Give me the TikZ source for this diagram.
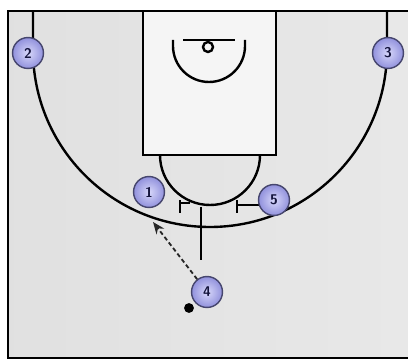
\documentclass[tikz,border=0pt]{standalone}
\usetikzlibrary{arrows.meta}
\definecolor{playerblue}{RGB}{145,145,220}
\definecolor{playerlight}{RGB}{215,215,250}
\definecolor{playerrim}{RGB}{70,70,110}
\definecolor{numberink}{RGB}{20,20,60}
\begin{document}
\begin{tikzpicture}[x=0.025cm, y=0.025cm,
  court/.style={line width=1.7pt, black},
  player/.style={circle, draw=playerrim, line width=1pt, shading=radial,
    inner color=playerlight, outer color=playerblue,
    minimum size=22pt, inner sep=0pt, font=\sffamily\bfseries, text=numberink},
  pass/.style={dashed, dash pattern=on 3pt off 2pt, line width=1.3pt, black!85, -{Stealth[length=3mm, width=2.4mm]}},
]
\useasboundingbox (0,0) rectangle (408,361);

% === FLOOR ===
\shade[shading=axis, left color=gray!24, middle color=gray!5, right color=gray!18]
  (8,3) rectangle (409,350);
\draw[court] (8,3) rectangle (409,350);

% === THREE POINT LINE ===
\draw[court] (33,350) -- (33,311) arc[start angle=180, end angle=360, radius=177] -- (387,350);

% === LANE AND FREE THROW CIRCLE ===
\fill[gray!8] (143,206) rectangle (276,350);
\draw[court] (143,206) rectangle (276,350);
\draw[court] (160,206) arc[start angle=180, end angle=360, radius=50];

% === BASKET ===
\draw[court] (183,321) -- (235,321);
\draw[court] (208,314) circle[radius=5];
\draw[court] (173,321) -- (173,315) arc[start angle=180, end angle=360, radius=36] -- (245,321);

% === BLOCKS ===
\draw[court, line width=1.2pt] (180,161) -- (180,148);
\draw[court, line width=1.2pt] (180,158) -- (190,158);
\draw[court, line width=1.2pt] (237,161) -- (237,148);
\draw[court, line width=1.2pt] (237,156) -- (262,156);
\draw[court, line width=1.3pt] (201,154) -- (201,101);

% === PLAYERS ===
\node[player] (p1) at (149,169) {1};
\node[player] (p2) at (28,308) {2};
\node[player] (p3) at (388,308) {3};
\node[player] (p4) at (207,69) {4};
\node[player] (p5) at (274,161) {5};
\node[circle, fill=black, minimum size=7pt, inner sep=0pt] (ball) at (189,53) {};

% === PASS ===
\coordinate (passend) at (153,139);
\draw[pass] (p4) -- (passend);
\end{tikzpicture}
\end{document}
